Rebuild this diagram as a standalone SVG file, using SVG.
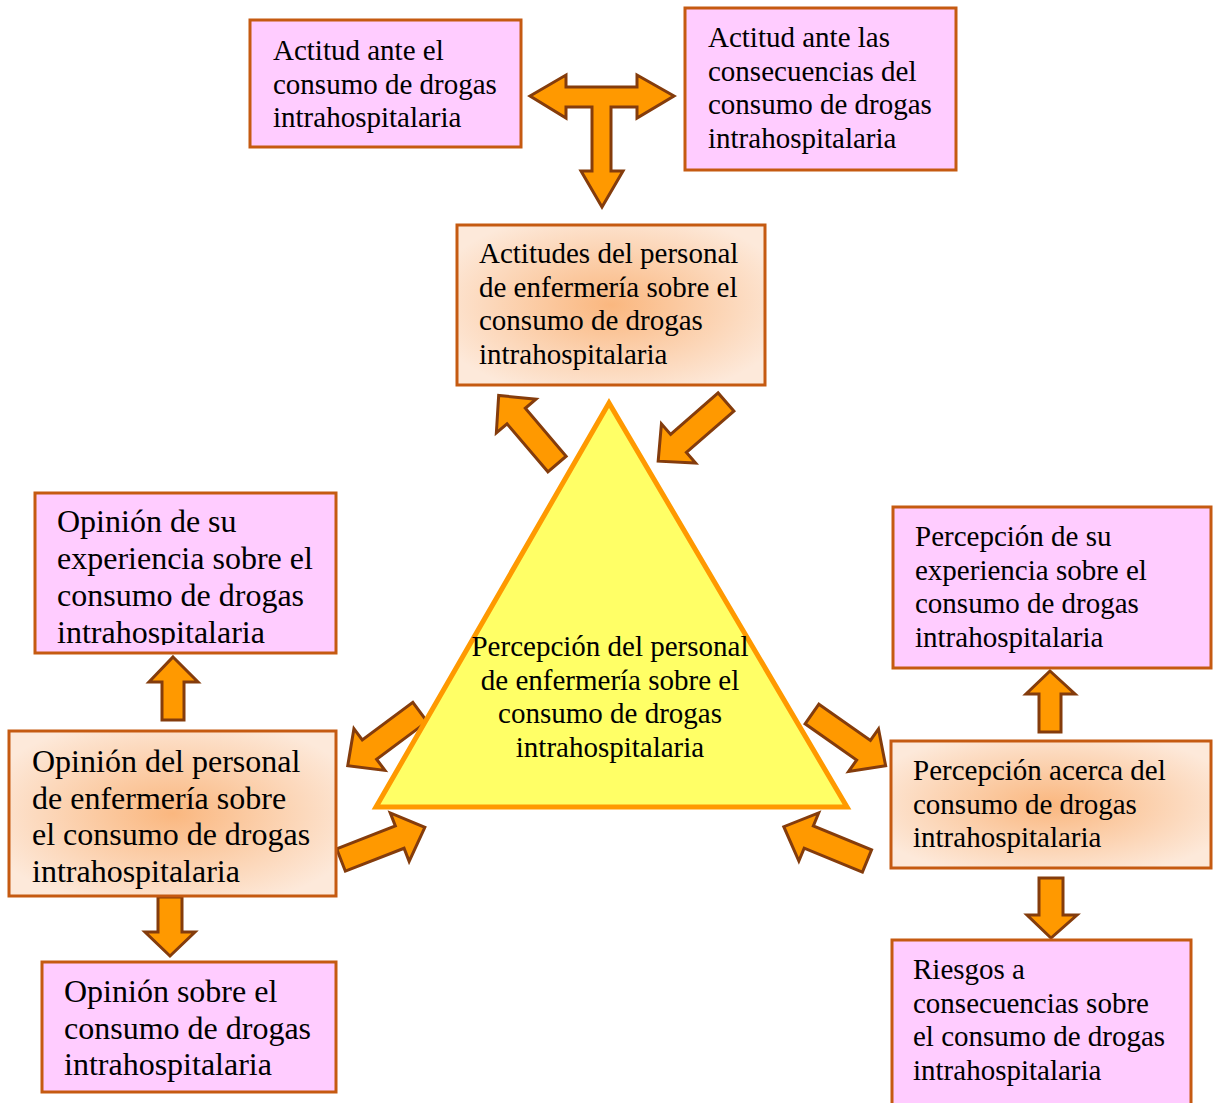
<svg xmlns="http://www.w3.org/2000/svg" xmlns:xlink="http://www.w3.org/1999/xlink" width="1214" height="1103" viewBox="0 0 1214 1103">
<style>
.pink{fill:#FFCCFF;stroke:#C55A11;stroke-width:3}
.grad{fill:url(#rg);stroke:#C55A11;stroke-width:3}
.t{font-family:"Liberation Serif","Times New Roman",serif;font-size:29px;fill:#000}
.tl{font-family:"Liberation Serif","Times New Roman",serif;font-size:32px;fill:#000}
.arr{fill:#FF9900;stroke:#843C0C;stroke-width:3;stroke-linejoin:miter}
</style>
<defs>
<radialGradient id="rg" cx="0.5" cy="0.5" r="0.6">
<stop offset="0" stop-color="#FAB77F"/>
<stop offset="1" stop-color="#FDE9DA"/>
</radialGradient>
<path id="blk" d="M0,-12 L63,-12 L63,-26 L90,0 L63,26 L63,12 L0,12 Z"/>
<clipPath id="c4"><rect x="35" y="494" width="301" height="151"/></clipPath>
</defs>
<rect width="1214" height="1103" fill="#fff"/>

<g id="connectors">
<path class="arr" d="M530,96 L566,75 L566,87 L637,87 L637,75 L674,96 L637,118 L637,107 L611,107 L611,171 L623,171 L602,207 L581,171 L592,171 L592,107 L566,107 L566,118 Z"/>
<use class="arr" href="#blk" transform="translate(557,464) rotate(-130.4)"/>
<use class="arr" href="#blk" transform="translate(726,402) rotate(138.9)"/>
<use class="arr" href="#blk" transform="translate(420,712) rotate(143.4)"/>
<use class="arr" href="#blk" transform="translate(341,860) rotate(-21.3)"/>
<use class="arr" href="#blk" transform="translate(812,714) rotate(35.1)"/>
<use class="arr" href="#blk" transform="translate(867,861) rotate(202.4)"/>
<path class="arr" d="M173,657 L198,682 L184,682 L184,720 L162,720 L162,682 L149,682 Z"/>
<path class="arr" d="M158,897 L182,897 L182,932 L195,932 L170,956 L145,932 L158,932 Z"/>
<path class="arr" d="M1050,671 L1075,694 L1061,694 L1061,732 L1039,732 L1039,694 L1026,694 Z"/>
<path class="arr" d="M1039,878 L1063,878 L1063,915 L1077,915 L1051,938 L1027,915 L1039,915 Z"/>
</g>

<g id="n-actitud-consumo">
<rect class="pink" x="250" y="20" width="271" height="127"/>
<text class="t" x="273" y="60">Actitud ante el</text>
<text class="t" x="273" y="93.5">consumo de drogas</text>
<text class="t" x="273" y="127">intrahospitalaria</text>
</g>

<g id="n-actitud-consecuencias">
<rect class="pink" x="685" y="8" width="271" height="162"/>
<text class="t" x="708" y="47">Actitud ante las</text>
<text class="t" x="708" y="80.5">consecuencias del</text>
<text class="t" x="708" y="114">consumo de drogas</text>
<text class="t" x="708" y="147.5">intrahospitalaria</text>
</g>

<g id="n-actitudes">
<rect class="grad" x="457" y="225" width="308" height="160"/>
<text class="t" x="479" y="263">Actitudes del personal</text>
<text class="t" x="479" y="296.5">de enfermería sobre el</text>
<text class="t" x="479" y="330">consumo de drogas</text>
<text class="t" x="479" y="363.5">intrahospitalaria</text>
</g>

<g id="n-percepcion-central">
<polygon points="609,403 376,807 847,807" fill="#FFFF66" stroke="#FF9900" stroke-width="5" stroke-linejoin="miter"/>
<g class="t" text-anchor="middle">
<text x="610" y="656">Percepción del personal</text>
<text x="610" y="689.5">de enfermería sobre el</text>
<text x="610" y="723">consumo de drogas</text>
<text x="610" y="756.5">intrahospitalaria</text>
</g>
</g>

<g id="n-opinion-experiencia">
<rect x="35" y="493" width="301" height="160" fill="#FFCCFF"/>
<g clip-path="url(#c4)">
<text class="tl" x="57" y="532">Opinión de su</text>
<text class="tl" x="57" y="569">experiencia sobre el</text>
<text class="tl" x="57" y="606">consumo de drogas</text>
<text class="tl" x="57" y="643">intrahospitalaria</text>
</g>
<rect x="35" y="493" width="301" height="160" fill="none" stroke="#C55A11" stroke-width="3"/>
</g>

<g id="n-opinion-personal">
<rect class="grad" x="9" y="731" width="327" height="165"/>
<text class="tl" x="32" y="772">Opinión del personal</text>
<text class="tl" x="32" y="808.5">de enfermería sobre</text>
<text class="tl" x="32" y="845">el consumo de drogas</text>
<text class="tl" x="32" y="881.5">intrahospitalaria</text>
</g>

<g id="n-opinion-consumo">
<rect class="pink" x="42" y="962" width="294" height="130"/>
<text class="tl" x="64" y="1002">Opinión sobre el</text>
<text class="tl" x="64" y="1038.5">consumo de drogas</text>
<text class="tl" x="64" y="1075">intrahospitalaria</text>
</g>

<g id="n-percepcion-experiencia">
<rect class="pink" x="893" y="507" width="318" height="161"/>
<text class="t" x="915" y="546">Percepción de su</text>
<text class="t" x="915" y="579.5">experiencia sobre el</text>
<text class="t" x="915" y="613">consumo de drogas</text>
<text class="t" x="915" y="646.5">intrahospitalaria</text>
</g>

<g id="n-percepcion-consumo">
<rect class="grad" x="891" y="741" width="320" height="127"/>
<text class="t" x="913" y="780">Percepción acerca del</text>
<text class="t" x="913" y="813.5">consumo de drogas</text>
<text class="t" x="913" y="847">intrahospitalaria</text>
</g>

<g id="n-riesgos">
<rect class="pink" x="892" y="940" width="299" height="170"/>
<text class="t" x="913" y="979">Riesgos a</text>
<text class="t" x="913" y="1012.5">consecuencias sobre</text>
<text class="t" x="913" y="1046">el consumo de drogas</text>
<text class="t" x="913" y="1079.5">intrahospitalaria</text>
</g>
</svg>
